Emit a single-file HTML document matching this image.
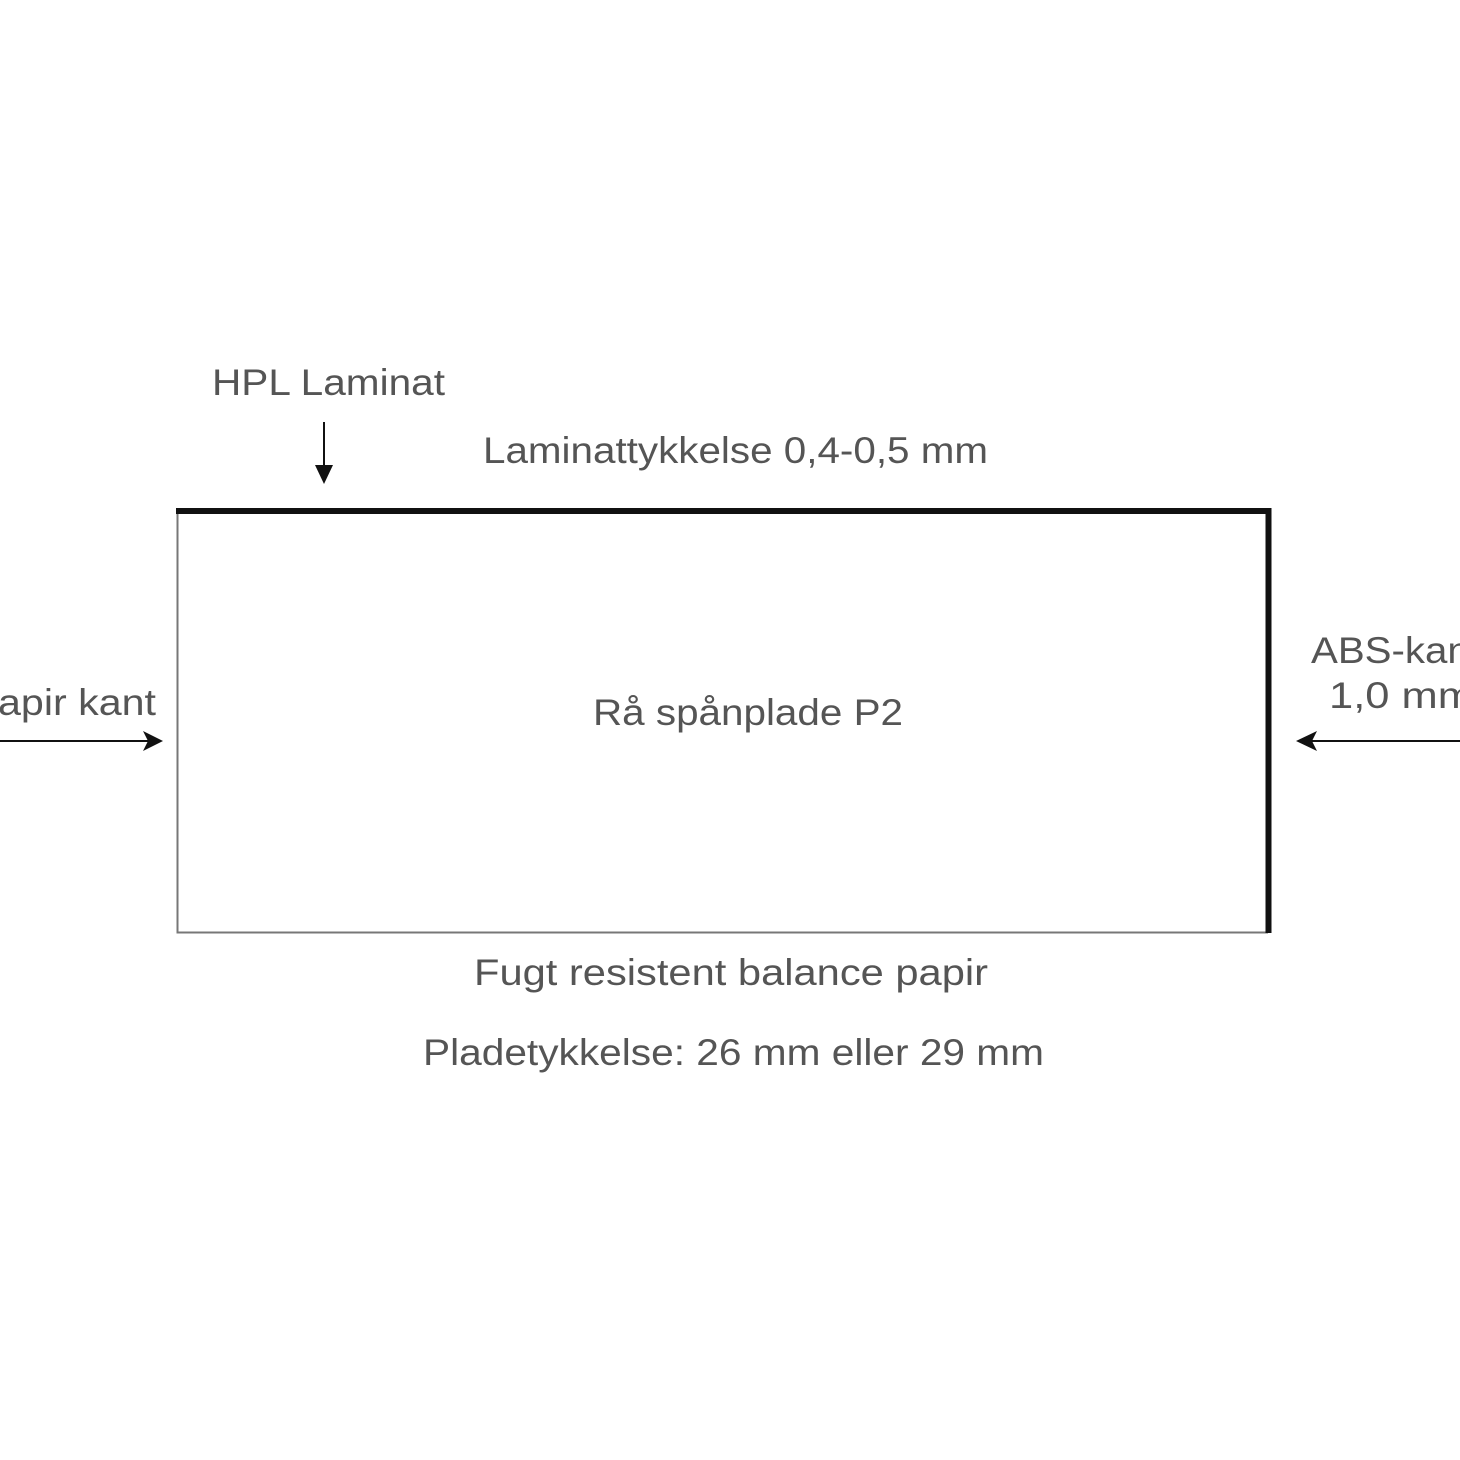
<!DOCTYPE html>
<html><head><meta charset="utf-8"><style>html,body{margin:0;padding:0;background:#fff}svg{display:block}</style></head>
<body>
<svg width="1460" height="1460" viewBox="0 0 1460 1460" xmlns="http://www.w3.org/2000/svg">
<rect width="1460" height="1460" fill="#fff"/>
<g font-family="Liberation Sans, sans-serif" font-size="37" fill="#555">
<text x="212" y="395" textLength="233" lengthAdjust="spacingAndGlyphs">HPL Laminat</text>
<text x="483" y="463" textLength="505" lengthAdjust="spacingAndGlyphs">Laminattykkelse 0,4-0,5 mm</text>
<text x="-2" y="715" textLength="158" lengthAdjust="spacingAndGlyphs">apir kant</text>
<text x="593" y="725" textLength="310" lengthAdjust="spacingAndGlyphs">Rå spånplade P2</text>
<text x="1311" y="663" textLength="170" lengthAdjust="spacingAndGlyphs">ABS-kant</text>
<text x="1329" y="708" textLength="145" lengthAdjust="spacingAndGlyphs">1,0 mm</text>
<text x="474" y="985" textLength="514" lengthAdjust="spacingAndGlyphs">Fugt resistent balance papir</text>
<text x="423" y="1065" textLength="621" lengthAdjust="spacingAndGlyphs">Pladetykkelse: 26 mm eller 29 mm</text>
</g>
<path d="M177.5 511 V932.5 H1268" fill="none" stroke="#777" stroke-width="2"/>
<path d="M176 511 H1268.5 V933" fill="none" stroke="#111" stroke-width="6"/>
<line x1="324" y1="422" x2="324" y2="472" stroke="#111" stroke-width="2"/>
<polygon points="315,465 333,465 324,484" fill="#111"/>
<line x1="0" y1="741" x2="152" y2="741" stroke="#111" stroke-width="2"/>
<polygon points="143,731 163,741 143,751 148,741" fill="#111"/>
<line x1="1306" y1="741" x2="1460" y2="741" stroke="#111" stroke-width="2"/>
<polygon points="1317,731 1296,741 1317,751 1312,741" fill="#111"/>
</svg>
</body></html>
